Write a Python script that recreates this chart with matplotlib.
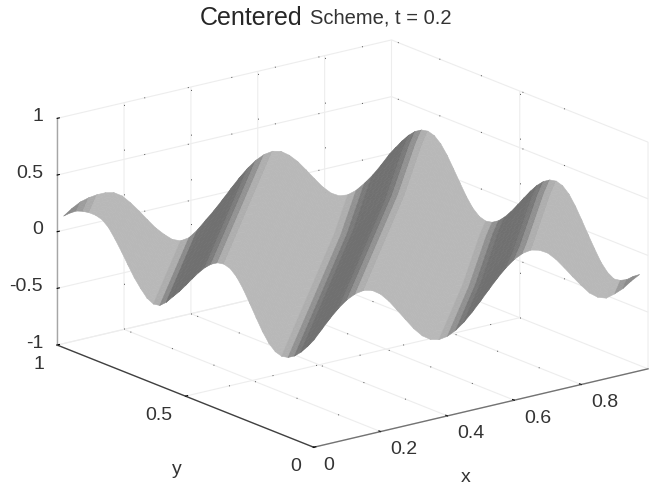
import numpy as np
import matplotlib
matplotlib.use('Agg')
import matplotlib.pyplot as plt
from matplotlib.transforms import offset_copy
from mpl_toolkits.mplot3d import proj3d
from mpl_toolkits.mplot3d.art3d import Poly3DCollection

plt.rcParams['font.family'] = ['Liberation Sans', 'DejaVu Sans']

# wave height along the diagonal x - y, read every 0.025 from s = -1 to s = 1
s_values = [
    0.10, 0.16, 0.21, 0.25, 0.27, 0.28, 0.28, 0.264, 0.217, 0.14,
    0.052, -0.042, -0.133, -0.207, -0.27, -0.30, -0.29, -0.24, -0.17, -0.102,
    -0.025, 0.055, 0.132, 0.20, 0.254, 0.289, 0.30, 0.282, 0.23, 0.148,
    0.047, -0.057, -0.158, -0.24, -0.292, -0.31, -0.298, -0.263, -0.207, -0.136,
    -0.056, 0.026, 0.106, 0.177, 0.233, 0.268, 0.28, 0.262, 0.212, 0.133,
    0.035, -0.065, -0.163, -0.242, -0.292, -0.31, -0.298, -0.262, -0.205, -0.133,
    -0.052, 0.032, 0.113, 0.185, 0.242, 0.278, 0.29, 0.271, 0.219, 0.135,
    0.033, -0.073, -0.175, -0.27, -0.335, -0.37, -0.36, -0.33, -0.28, -0.24,
    -0.20,
]
# extra height of the far x columns, the right part stands higher in the scan
x_lift = [0.0] * 28 + [0.01, 0.02, 0.03, 0.04, 0.05, 0.06, 0.07, 0.08, 0.09, 0.09, 0.09, 0.09]
x_ticks = [0, 0.2, 0.4, 0.6, 0.8]
y_ticks = [0, 0.5, 1]
z_ticks = [-1, -0.5, 0, 0.5, 1]
x_tick_labels = ['0', '0.2', '0.4', '0.6', '0.8']
y_tick_labels = ['0', '0.5', '1']
z_tick_labels = ['-1', '-0.5', '0', '0.5', '1']
n_x = 40
n_y = 40
step = 0.025


def buildSurface(profile):
    # gray of each strip between two neighbouring diagonals
    slope = np.diff(profile) / step
    slope = np.convolve(slope, np.array([1, 2, 3, 2, 1]) / 9, mode='same')
    gray = 0.72 - 0.28 * np.clip(slope / 2.4, 0, 1)
    vertList = []
    colorList = []
    for i in range(n_x - 1):
        for j in range(n_y - 1):
            k = i - j + 40
            a = (i * step, j * step, profile[k] + x_lift[i])
            b = ((i + 1) * step, j * step, profile[k + 1] + x_lift[i + 1])
            c = ((i + 1) * step, (j + 1) * step, profile[k] + x_lift[i + 1])
            d = (i * step, (j + 1) * step, profile[k - 1] + x_lift[i])
            vertList.append([a, b, c])
            colorList.append(str(round(gray[k], 3)))
            vertList.append([a, c, d])
            colorList.append(str(round(gray[k - 1], 3)))
    return vertList, colorList


def addSpecks(ax):
    # scan leaves only loose dark dots along the dotted grid lines
    specks = dict(color='0.3', linewidth=0.7, linestyle=(0, (1, 45)), zorder=1)
    for v in x_ticks[1:]:
        ax.plot([v, v], [0, 1], [-1, -1], **specks)
        ax.plot([v, v], [1, 1], [-1, 1], **specks)
    for v in y_ticks[1:2]:
        ax.plot([0, 1], [v, v], [-1, -1], **specks)
        ax.plot([1, 1], [v, v], [-1, 1], **specks)
    for v in z_ticks[1:]:
        ax.plot([0, 1], [1, 1], [v, v], **specks)
        ax.plot([1, 1], [0, 1], [v, v], **specks)


def addTickLabels(ax, fig):
    # labels sit at fixed pixel offsets from the projected tick points
    fig.canvas.draw()
    M = ax.get_proj()
    style = dict(fontsize=14, color='0.2', va='center', zorder=6, clip_on=False)
    xTrans = offset_copy(ax.transData, fig=fig, x=10, y=-17, units='dots')
    yTrans = offset_copy(ax.transData, fig=fig, x=-13, y=-18, units='dots')
    zTrans = offset_copy(ax.transData, fig=fig, x=-14, y=3, units='dots')
    for v, label in zip(x_ticks, x_tick_labels):
        px, py, _ = proj3d.proj_transform(v, 0, -1, M)
        ax.text2D(px, py, label, ha='left', transform=xTrans, **style)
    for v, label in zip(y_ticks, y_tick_labels):
        px, py, _ = proj3d.proj_transform(0, v, -1, M)
        ax.text2D(px, py, label, ha='right', transform=yTrans, **style)
    for v, label in zip(z_ticks, z_tick_labels):
        px, py, _ = proj3d.proj_transform(0, 1, v, M)
        ax.text2D(px, py, label, ha='right', transform=zTrans, **style)


def main():
    profile = np.array(s_values)
    vertList, colorList = buildSurface(profile)

    fig = plt.figure(figsize=(6.58, 4.89), dpi=100)
    ax = fig.add_axes([17 / 658, -6.7 / 489, 1, 1], projection='3d', proj_type='ortho',
                      computed_zorder=False)
    ax.view_init(elev=17.8, azim=-127.5)
    ax.set_box_aspect((1, 1, 0.565), zoom=1.274)
    ax.set_xlim(0, 1)
    ax.set_ylim(0, 1)
    ax.set_zlim(-1, 1)

    surf = Poly3DCollection(vertList, facecolors=colorList, edgecolors=colorList,
                            linewidths=0.4, zorder=5)
    ax.add_collection3d(surf, autolim=False)
    surf.set_clip_on(False)
    addSpecks(ax)

    for axis in [ax.xaxis, ax.yaxis, ax.zaxis]:
        axis.set_pane_color((1, 1, 1, 1))
        axis.pane.set_edgecolor('white')
        axis._axinfo['grid']['color'] = '0.93'
        axis._axinfo['grid']['linewidth'] = 0.8
        axis._axinfo['tick']['inward_factor'] = 0.0
        axis._axinfo['tick']['outward_factor'] = 0.08
        axis.line.set_linewidth(1.0)
        axis.set_tick_params(label1On=False, label2On=False)
    ax.xaxis.line.set_color('0.45')
    ax.yaxis.line.set_color('0.25')
    ax.zaxis.line.set_color('0.65')

    ax.set_xticks(x_ticks)
    ax.set_yticks(y_ticks)
    ax.set_zticks(z_ticks)
    ax.zaxis.set_ticks_position('upper')
    addTickLabels(ax, fig)

    fig.text(466 / 658, 1 - 478 / 489, 'x', fontsize=14, color='0.2', ha='center', va='center')
    fig.text(177 / 658, 1 - 470 / 489, 'y', fontsize=14, color='0.2', ha='center', va='center')
    fig.text(200 / 658, 0.963, 'Centered', fontsize=18, color='0.15', va='center')
    fig.text(310 / 658, 0.963, 'Scheme, t = 0.2', fontsize=14.5, color='0.2', va='center')

    fig.savefig('out.png', dpi=100)


if __name__ == "__main__":
    main()
